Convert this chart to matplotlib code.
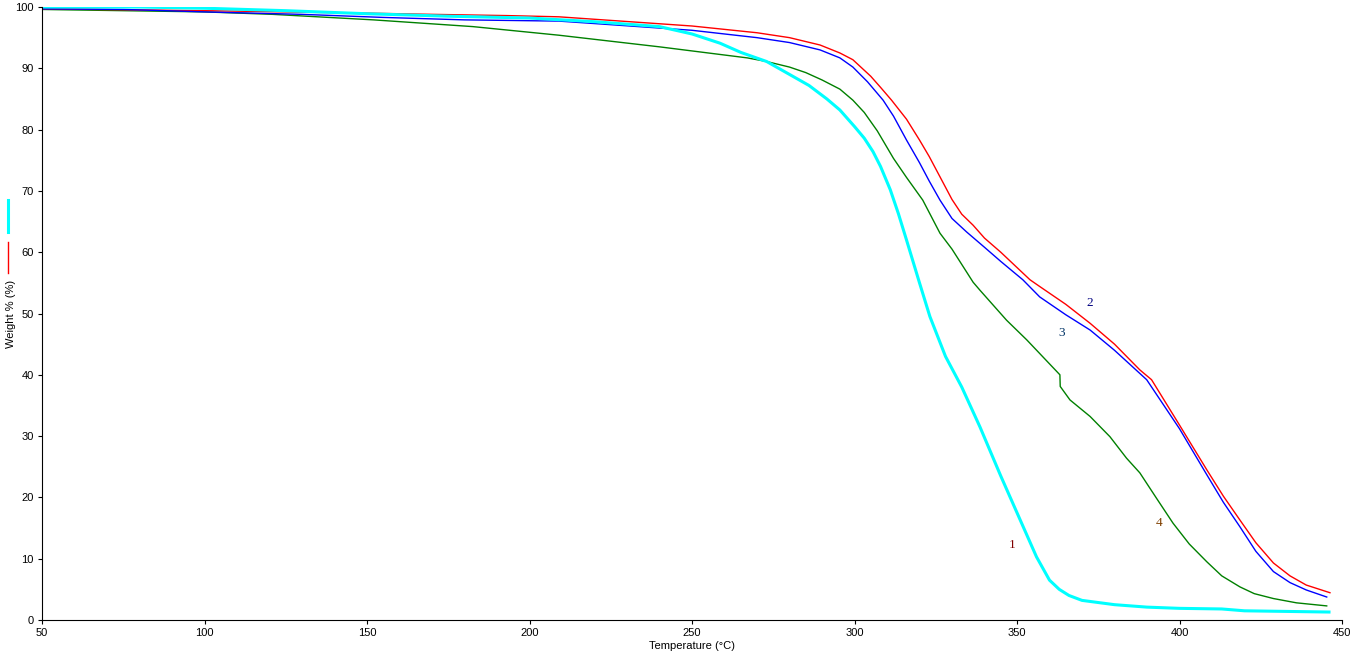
#!/usr/bin/env python

# %%
# TGA curves, weight % vs temperature
import matplotlib.pyplot as plt
from matplotlib.lines import Line2D
import numpy as np

# %%
# data

# curve 1 (cyan)
t1 = [50, 80, 100, 125, 150, 175, 200, 220, 240, 250, 258.6, 265, 273, 280, 286, 291.5, 295.5, 300,
      303, 305.7, 308, 311, 313.5, 316, 318, 320, 323.2, 328, 333, 338.6, 345, 350, 356, 360, 363,
      366, 370, 380, 390, 400, 413, 420, 446]
w1 = [100.0, 100.0, 99.8, 99.4, 98.9, 98.5, 98.2, 97.6, 96.8, 95.6, 94.1, 92.6, 91.1, 89.0, 87.2, 85.0, 83.2, 80.5,
      78.6, 76.4, 74.0, 70.2, 66.3, 62.0, 58.5, 55.0, 49.5, 43.0, 38.0, 31.5, 23.5, 17.5, 10.3, 6.5, 5.0,
      4.0, 3.2, 2.5, 2.1, 1.9, 1.8, 1.5, 1.3]

# curve 2 (red)
t2 = [50, 100, 150, 170, 193, 209, 250, 270, 280, 289.4, 295.5, 299.5, 305, 308, 311.4, 316, 320, 323,
      326.3, 330, 333, 336.5, 340, 345, 350, 354, 357, 365, 372.5, 380, 387.8, 391.4, 400, 408.4,
      413.5, 418.6, 423.5, 428.9, 434, 439, 446.3]
w2 = [99.7, 99.4, 99.0, 98.8, 98.6, 98.4, 96.9, 95.8, 95.0, 93.8, 92.5, 91.4, 88.7, 86.9, 84.8, 81.7, 78.3, 75.6,
      72.3, 68.6, 66.2, 64.4, 62.3, 60.0, 57.5, 55.5, 54.4, 51.5, 48.4, 45.0, 40.8, 39.2, 31.8, 24.5,
      20.2, 16.3, 12.6, 9.3, 7.2, 5.7, 4.45]

# curve 3 (blue)
t3 = [50, 75, 88, 100, 130, 155, 180, 209, 250, 270, 280, 289.4, 295.5, 299.5, 304, 308.8, 312, 316,
      320, 323, 326.3, 330, 334.5, 340, 345, 351.8, 357, 365, 372.5, 380, 389.9, 400, 408.4, 413.5,
      418.6, 423.5, 428.9, 434, 439, 445.3]
w3 = [99.7, 99.6, 99.4, 99.2, 98.8, 98.3, 97.9, 97.7, 96.2, 95.0, 94.2, 93.0, 91.7, 90.2, 87.8, 84.8, 82.2, 78.3,
      74.6, 71.6, 68.5, 65.5, 63.3, 60.8, 58.5, 55.5, 52.7, 49.8, 47.3, 44.0, 39.2, 31.2, 23.7, 19.2,
      15.2, 11.2, 7.9, 6.1, 4.9, 3.75]

# curve 4 (green)
t4 = [50, 75, 100, 121, 152, 182.6, 209, 240, 267, 273, 280, 285, 290, 295.5, 299.5, 303, 307, 312,
      316, 321, 326.3, 330, 336.5, 338.6, 346.8, 353, 363.2, 363.3, 366.3, 372.5, 378.6, 383.7,
      387.8, 393, 398, 403, 408.4, 413, 418.6, 423, 428.9, 436, 445.3]
w4 = [99.6, 99.4, 99.2, 98.8, 97.9, 96.8, 95.4, 93.5, 91.7, 91.1, 90.2, 89.3, 88.1, 86.6, 84.8, 82.8, 79.8, 75.3,
      72.2, 68.5, 63.1, 60.5, 55.1, 53.8, 48.9, 45.7, 40.0, 38.1, 35.9, 33.2, 29.9, 26.4,
      24.0, 19.8, 15.8, 12.4, 9.5, 7.2, 5.4, 4.3, 3.5, 2.8, 2.3]

# curve labels
lab_txt = ['1', '2', '3', '4']
lab_x = [348.5, 372.5, 363.8, 393.7]
lab_y = [12.2, 51.7, 46.8, 15.8]
lab_col = ['#800000', '#000080', '#003366', '#804000']

# %%
fig = plt.figure(figsize=(13.52, 6.56), dpi=100)
ax = fig.add_axes([42/1352, 36/656, 1300/1352, 613/656])

ax.plot(t4, w4, color='#008000', linewidth=1.0)
ax.plot(t2, w2, color='#FF0000', linewidth=1.0)
ax.plot(t3, w3, color='#0000FF', linewidth=1.0)
ax.plot(t1, w1, color='#00FFFF', linewidth=2.2)

for ii in range(len(lab_txt)):
    ax.text(lab_x[ii], lab_y[ii], lab_txt[ii], color=lab_col[ii], fontsize=9.5,
            family='Liberation Serif', ha='center', va='center')

ax.set_xlim(50, 450)
ax.set_ylim(0, 100)
ax.set_xticks(np.arange(50, 451, 50))
ax.set_yticks(np.arange(0, 101, 10))
ax.spines['top'].set_visible(False)
ax.spines['right'].set_visible(False)
ax.tick_params(direction='out', length=3, labelsize=8, pad=3)
for lab in ax.get_xticklabels() + ax.get_yticklabels():
    lab.set_family('Liberation Sans')

ax.set_xlabel('Temperature (°C)', fontsize=8, family='Liberation Sans', labelpad=2)
ax.set_ylabel('Weight % (%)', fontsize=8, family='Liberation Sans')
ax.yaxis.set_label_coords(-26/1300, 0.5)

# little colour keys at the left edge
fig.add_artist(Line2D([8/1352, 8/1352], [1-200/656, 1-232/656], color='#00FFFF', linewidth=2.2))
fig.add_artist(Line2D([8/1352, 8/1352], [1-242/656, 1-273/656], color='#FF0000', linewidth=1.0))

plt.savefig('out.png', dpi=100)
